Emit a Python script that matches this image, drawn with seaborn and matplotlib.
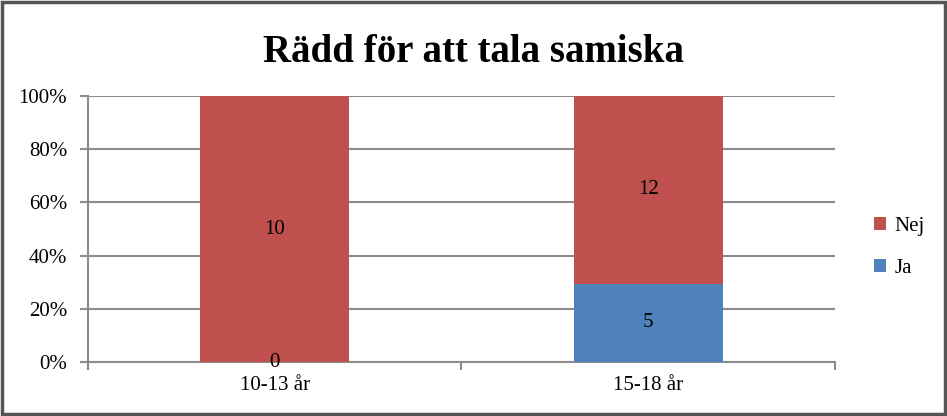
import matplotlib
matplotlib.use("Agg")
import matplotlib.pyplot as plt
import seaborn as sns
import pandas as pd
from matplotlib.patches import Rectangle, Patch
from matplotlib.ticker import FuncFormatter, FixedLocator

categories = ["10-13 år", "15-18 år"]
ja_counts = [0, 5]
nej_counts = [10, 12]
series_names = ["Nej", "Ja"]
title = "Rädd för att tala samiska"

red = "#C0504D"
blue = "#4F81BD"
grid_c = "#8C8C8C"

sns.set_theme(style="white")
plt.rcParams["font.family"] = ["Liberation Serif", "DejaVu Serif"]
plt.rcParams["text.color"] = "black"

totals = [a + b for a, b in zip(ja_counts, nej_counts)]
df = pd.DataFrame({
    "cat": categories,
    "ja_pct": [100 * a / t for a, t in zip(ja_counts, totals)],
    "tot_pct": [100.0 for _ in totals],
    "ja": ja_counts,
    "nej": nej_counts,
})

fig = plt.figure(figsize=(9.47, 4.16), dpi=100)
ax = fig.add_axes([0.0929, 0.1298, 0.7888, 0.6394])

sns.barplot(data=df, x="cat", y="tot_pct", color=red, saturation=1, width=0.4, ax=ax,
            zorder=3, linewidth=0, edgecolor="none")
sns.barplot(data=df, x="cat", y="ja_pct", color=blue, saturation=1, width=0.4, ax=ax,
            zorder=3, linewidth=0, edgecolor="none")

ax.set_xlim(-0.5, 1.5)
ax.set_ylim(0, 100)
ax.set_yticks([0, 20, 40, 60, 80, 100])
ax.yaxis.set_major_formatter(FuncFormatter(lambda v, p: f"{int(v)}%"))
ax.yaxis.grid(True, color=grid_c, linewidth=1.5, zorder=0)
ax.set_axisbelow(True)
ax.set_xlabel("")
ax.set_ylabel("")

for s in ["top", "right"]:
    ax.spines[s].set_visible(False)
for s in ["left", "bottom"]:
    ax.spines[s].set_color(grid_c)
    ax.spines[s].set_linewidth(1.5)

fs = 15
ax.tick_params(axis="y", which="major", direction="out", length=6, width=1.5, color=grid_c,
               labelsize=fs, labelcolor="black", left=True, pad=9)
ax.tick_params(axis="x", which="major", length=0, labelsize=fs, labelcolor="black", pad=10)
ax.xaxis.set_minor_locator(FixedLocator([-0.5, 0.5, 1.5]))
ax.tick_params(axis="x", which="minor", direction="out", length=6, width=1.5, color=grid_c, bottom=True)

# data labels
for i, (ja, nej, jp) in enumerate(zip(df["ja"], df["nej"], df["ja_pct"])):
    ax.text(i, jp / 2, str(ja), ha="center", va="center", fontsize=fs, color="black", zorder=5)
    ax.text(i, jp + (100 - jp) / 2, str(nej), ha="center", va="center", fontsize=fs, color="black", zorder=5)

handles = [Patch(facecolor=red, edgecolor="none"), Patch(facecolor=blue, edgecolor="none")]
fig.legend(handles, series_names, loc="center left", bbox_to_anchor=(0.903, 0.405),
           frameon=False, fontsize=fs, handlelength=0.6, handleheight=0.6,
           handletextpad=0.4, labelspacing=1.1)

fig.text(0.5, 0.875, title, ha="center", va="center", fontsize=28, fontweight="bold", color="black")

fig.patches.append(Rectangle((0.002, 0.004), 0.996, 0.992, transform=fig.transFigure,
                             fill=False, edgecolor="#555555", linewidth=2.5))

fig.savefig("out.png", dpi=100)
